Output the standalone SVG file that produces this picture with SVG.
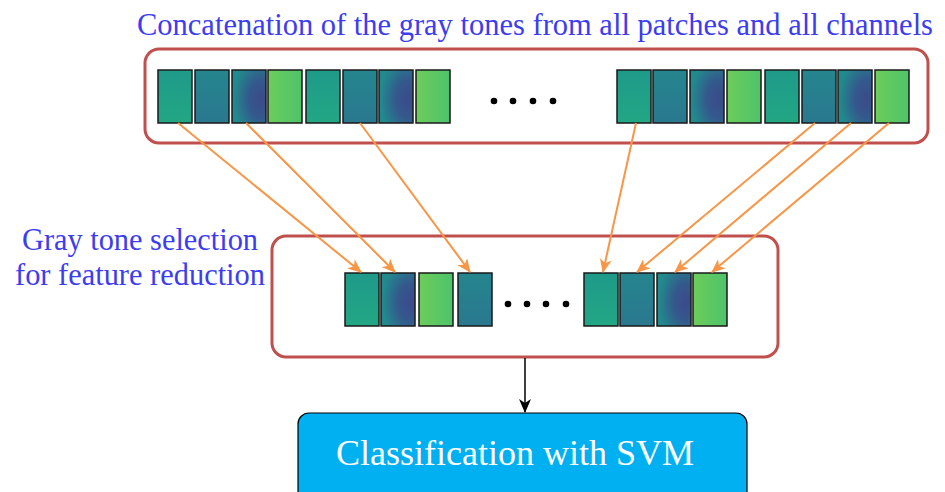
<svg xmlns="http://www.w3.org/2000/svg" width="945" height="492" viewBox="0 0 945 492">
<defs>
<style>
.box{fill:none;stroke:#c0504d;stroke-width:3}
.t{stroke:#1a1a1a;stroke-width:1.5}
.c{stroke:#f79646;stroke-width:2;fill:none;marker-end:url(#oa)}
.dot{fill:#000}
</style>
<linearGradient id="gA" x1="0" y1="0" x2="0" y2="1"><stop offset="0" stop-color="#1f9a8a"/><stop offset="1" stop-color="#22a784"/></linearGradient>
<linearGradient id="gB" x1="0" y1="0" x2="0" y2="1"><stop offset="0" stop-color="#25858e"/><stop offset="1" stop-color="#2a788e"/></linearGradient>
<radialGradient id="gC" cx="0.85" cy="0.55" r="0.8"><stop offset="0" stop-color="#3b4a8b"/><stop offset="0.45" stop-color="#34598c"/><stop offset="1" stop-color="#22898d"/></radialGradient>
<linearGradient id="gD" x1="0" y1="0" x2="1" y2="0"><stop offset="0" stop-color="#6ccd5a"/><stop offset="1" stop-color="#4ec36b"/></linearGradient>
<marker id="oa" viewBox="0 0 14 12" refX="13" refY="6" markerWidth="14" markerHeight="12" markerUnits="userSpaceOnUse" orient="auto"><path d="M0,0 L14,6 L0,12 L4,6 Z" fill="#f79646"/></marker>
<marker id="ka" viewBox="0 0 14 12" refX="13" refY="6" markerWidth="14" markerHeight="12" markerUnits="userSpaceOnUse" orient="auto"><path d="M0,0 L14,6 L0,12 L4,6 Z" fill="#000"/></marker>
</defs>

<text x="137" y="35" font-family="Liberation Serif, Times New Roman, serif" font-size="31" fill="#3c3cf0" textLength="796" lengthAdjust="spacingAndGlyphs">Concatenation of the gray tones from all patches and all channels</text>

<g id="concat">
<rect class="box" x="145" y="49" width="783" height="94" rx="14"/>
<rect class="t" x="158" y="70" width="34" height="53" fill="url(#gA)"/>
<rect class="t" x="195" y="70" width="34" height="53" fill="url(#gB)"/>
<rect class="t" x="232" y="70" width="34" height="53" fill="url(#gC)"/>
<rect class="t" x="268" y="70" width="34" height="53" fill="url(#gD)"/>
<rect class="t" x="306" y="70" width="34" height="53" fill="url(#gA)"/>
<rect class="t" x="343" y="70" width="34" height="53" fill="url(#gB)"/>
<rect class="t" x="379" y="70" width="34" height="53" fill="url(#gC)"/>
<rect class="t" x="416" y="70" width="34" height="53" fill="url(#gD)"/>
<circle class="dot" cx="494" cy="101" r="3.3"/>
<circle class="dot" cx="513" cy="101" r="3.3"/>
<circle class="dot" cx="533" cy="101" r="3.3"/>
<circle class="dot" cx="553" cy="101" r="3.3"/>
<rect class="t" x="617" y="70" width="34" height="53" fill="url(#gA)"/>
<rect class="t" x="653" y="70" width="34" height="53" fill="url(#gB)"/>
<rect class="t" x="690" y="70" width="34" height="53" fill="url(#gC)"/>
<rect class="t" x="727" y="70" width="34" height="53" fill="url(#gD)"/>
<rect class="t" x="765" y="70" width="34" height="53" fill="url(#gA)"/>
<rect class="t" x="802" y="70" width="34" height="53" fill="url(#gB)"/>
<rect class="t" x="838" y="70" width="34" height="53" fill="url(#gC)"/>
<rect class="t" x="875" y="70" width="34" height="53" fill="url(#gD)"/>
</g>

<g id="selection">
<text x="22" y="250" font-family="Liberation Serif, Times New Roman, serif" font-size="31" fill="#3c3cf0" textLength="236" lengthAdjust="spacingAndGlyphs">Gray tone selection</text>
<text x="15" y="285" font-family="Liberation Serif, Times New Roman, serif" font-size="31" fill="#3c3cf0" textLength="250" lengthAdjust="spacingAndGlyphs">for feature reduction</text>
<rect class="box" x="272" y="236" width="506" height="121" rx="14"/>
<rect class="t" x="345" y="273" width="34" height="53" fill="url(#gA)"/>
<rect class="t" x="381" y="273" width="34" height="53" fill="url(#gC)"/>
<rect class="t" x="419" y="273" width="34" height="53" fill="url(#gD)"/>
<rect class="t" x="458" y="273" width="34" height="53" fill="url(#gB)"/>
<circle class="dot" cx="508" cy="304" r="3.3"/>
<circle class="dot" cx="527" cy="304" r="3.3"/>
<circle class="dot" cx="546" cy="304" r="3.3"/>
<circle class="dot" cx="566" cy="304" r="3.3"/>
<rect class="t" x="584" y="273" width="34" height="53" fill="url(#gA)"/>
<rect class="t" x="620" y="273" width="34" height="53" fill="url(#gB)"/>
<rect class="t" x="657" y="273" width="34" height="53" fill="url(#gC)"/>
<rect class="t" x="693" y="273" width="34" height="53" fill="url(#gD)"/>
</g>

<g id="svm">
<rect x="298" y="413" width="449" height="90" rx="11" fill="#00b0f0" stroke="#000" stroke-width="1.2"/>
<text x="515" y="465" text-anchor="middle" font-family="Liberation Serif, Times New Roman, serif" font-size="36" fill="#fff">Classification with SVM</text>
</g>

<g id="connectors">
<line class="c" x1="178" y1="123" x2="361" y2="272"/>
<line class="c" x1="246" y1="123" x2="395" y2="272"/>
<line class="c" x1="360" y1="123" x2="470" y2="272"/>
<line class="c" x1="636" y1="123" x2="603" y2="272"/>
<line class="c" x1="815" y1="123" x2="637" y2="272"/>
<line class="c" x1="851" y1="123" x2="675" y2="272"/>
<line class="c" x1="889" y1="123" x2="712" y2="272"/>
<line x1="525" y1="358" x2="525" y2="412" stroke="#000" stroke-width="1.5" marker-end="url(#ka)"/>
</g>
</svg>
